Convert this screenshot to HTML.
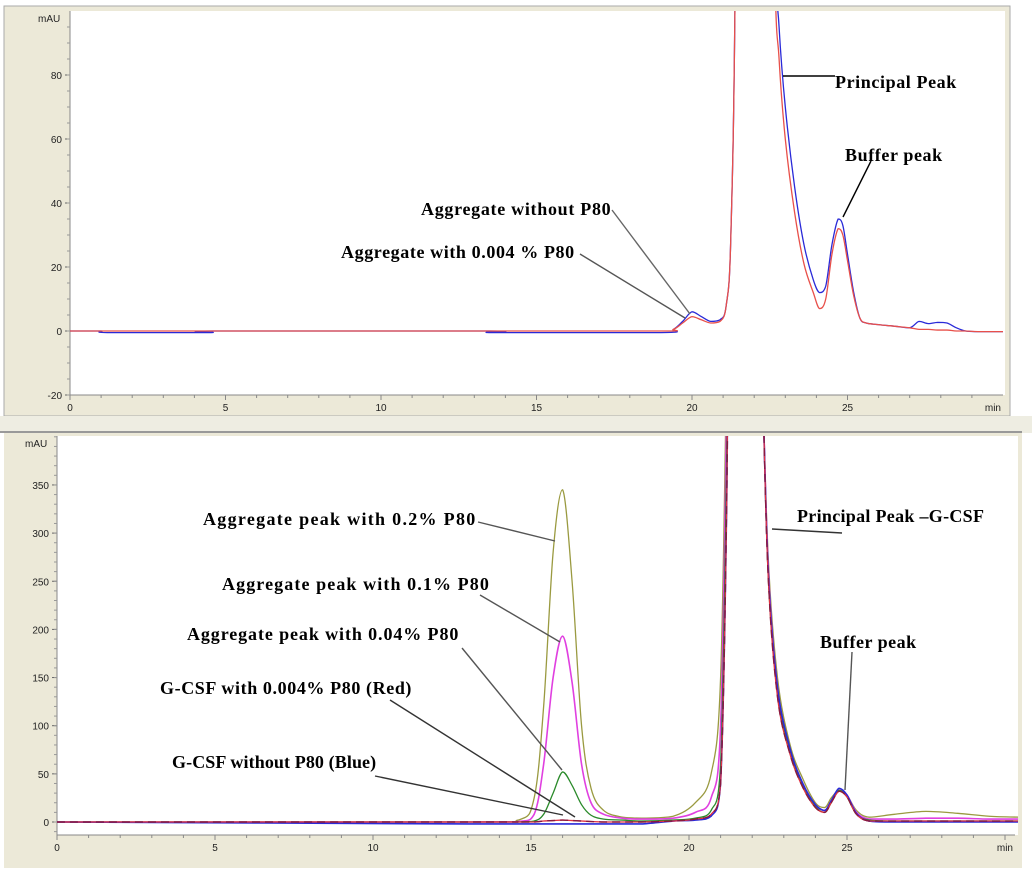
<!DOCTYPE html>
<html><head><meta charset="utf-8"><style>
body{margin:0;background:#fff;}
svg{display:block;font-family:"Liberation Sans",sans-serif;}
.ann{font-family:"Liberation Serif",serif;font-weight:bold;font-size:18px;fill:#000;}
.tick{font-size:10px;fill:#222;}
</style></head><body>
<svg id="c" width="1032" height="872" viewBox="0 0 1032 872">
<rect x="0" y="0" width="1032" height="872" fill="#fff"/>
<rect x="4" y="6" width="1006" height="410" fill="#ECE9D8" stroke="#aaa"/>
<rect x="70" y="11" width="935" height="384" fill="#fff"/>
<rect x="0" y="416" width="1032" height="17" fill="#EEEDE2"/>
<line x1="0" y1="432" x2="1022" y2="432" stroke="#999" stroke-width="2"/>
<rect x="4" y="433" width="1018" height="435" fill="#ECE9D8"/>
<rect x="57" y="436" width="961" height="399" fill="#fff"/>
<defs>
<clipPath id="clipT"><rect x="70" y="11" width="935" height="384"/></clipPath>
<clipPath id="clipB"><rect x="57" y="436" width="961" height="399"/></clipPath>
</defs>
<g id="topAxes"></g><g id="botAxes"></g>
<g id="topSeries" clip-path="url(#clipT)"></g>
<g id="botSeries" clip-path="url(#clipB)"></g>
<g id="ann"></g>
</svg>
<script>
// ---- top chart data ----
const topTimes = [0,1,1.2,4.5,4.6,13.5,13.6,19.0,19.4,19.7,20.0,20.3,20.6,20.9,21.1,21.25,21.4,21.6,22.0,22.4,22.65,22.8,23.0,23.3,23.6,23.9,24.1,24.3,24.5,24.7,24.85,25.0,25.2,25.4,25.6,26.0,26.5,27.0,27.3,27.6,27.9,28.2,28.5,28.8,29.2,30];
const topBlue = [0,0,-0.5,-0.5,0,0,-0.5,-0.5,0.5,3,6,4.5,3,3.5,8,30,120,400,500,300,130,95,70,45,27,16,12,14,27,35,33,24,12,4,2.5,2,1.5,1,3,2.3,2.7,2.5,1,0,-0.2,-0.2];
const topRed =  [0,0,0,0,0,0,0,0,0.5,2.5,4.5,3.5,2.5,3,8,30,120,400,500,300,120,85,60,37,21,12,7,10,24,32,30,22,11,4,2.5,2,1.5,1,0.5,0.5,0.3,0.3,0,0,-0.2,-0.2];
const topYTicks = [-20,0,20,40,60,80];
const topXTicks = [0,5,10,15,20,25];
// ---- bottom chart data ----
const botTimes = [0,13,14.6,15.1,15.4,15.7,16.0,16.3,16.6,16.9,17.3,17.9,18.5,19.5,20.2,20.7,21.0,21.2,21.35,21.6,22.0,22.3,22.5,22.8,23.2,23.6,24.0,24.3,24.5,24.75,25.0,25.3,25.7,26.5,27.5,28.5,29.5,30.5];
const botOlive =   [0,0,2,25,120,280,345,250,100,35,12,5,4,6,20,50,150,500,900,1000,900,500,280,150,80,45,20,15,25,33,28,12,5,8,11,9,6,5];
const botMagenta = [0,0,0.5,8,60,150,193,145,60,20,8,4,3,4,10,25,100,450,900,1000,900,500,270,140,75,40,18,12,22,33,28,10,3,3,4,4,3,3];
const botGreen =   [0,0,0,1,8,30,52,38,18,7,3,2,1,2,4,12,60,400,900,1000,900,500,260,135,72,38,16,10,20,33,26,8,2,1,1,1,1,1];
const botRed =     [0,0,0,0,1,1.5,2,1.5,1,0.5,0,0,0,1,3,8,40,350,900,1000,900,500,260,130,70,36,15,10,20,32,26,8,1,1,1,1,1,1];
const botBlue =    [0,-2,-2,-2,-2,-2,-2,-2,-2,-2,-2,-2,-2,1,2,6,40,350,900,1000,900,500,265,140,76,40,18,12,22,35,28,9,1,0,0,0,0,0];
const botYTicks = [0,50,100,150,200,250,300,350];
const botXTicks = [0,5,10,15,20,25];

const NS="http://www.w3.org/2000/svg";
function mk(tag,attrs,parent){const e=document.createElementNS(NS,tag);for(const k in attrs)e.setAttribute(k,attrs[k]);parent.appendChild(e);return e;}
const tX=t=>70+t*31.1, tY=v=>331-v*3.2;
const bX=t=>57+t*31.6, bY=v=>822-v*0.963;

function smooth(pts){let d=`M${pts[0][0]},${pts[0][1]}`;
 for(let i=0;i<pts.length-1;i++){const p0=pts[Math.max(0,i-1)],p1=pts[i],p2=pts[i+1],p3=pts[Math.min(pts.length-1,i+2)];
  let c1y=p1[1]+(p2[1]-p0[1])/6,c2y=p2[1]-(p3[1]-p1[1])/6;
  const lo=Math.min(p1[1],p2[1]),hi=Math.max(p1[1],p2[1]);
  c1y=Math.max(lo,Math.min(hi,c1y));c2y=Math.max(lo,Math.min(hi,c2y));
  d+=`C${p1[0]+(p2[0]-p0[0])/6},${c1y} ${p2[0]-(p3[0]-p1[0])/6},${c2y} ${p2[0]},${p2[1]}`;}
 return d;}

function axes(g,X,Y,x0,x1,y0,y1,xt,yt,minor,ymin){
 mk('line',{x1:x0,y1:y0,x2:x0,y2:y1,stroke:'#888'},g);
 mk('line',{x1:x0,y1:y1,x2:x1,y2:y1,stroke:'#888'},g);
 yt.forEach(v=>{mk('line',{x1:x0-5,y1:Y(v),x2:x0,y2:Y(v),stroke:'#666'},g);
  const t=mk('text',{x:x0-8,y:Y(v)+4,'text-anchor':'end',class:'tick'},g);t.textContent=v;
  
  });
 for(let v=ymin;Y(v)>y0;v+=minor){mk('line',{x1:x0-3,y1:Y(v),x2:x0,y2:Y(v),stroke:'#999'},g);}
 for(let t=0;X(t)<x1;t+=1){mk('line',{x1:X(t),y1:y1,x2:X(t),y2:y1+(t%5?3:5),stroke:'#888'},g);}
 xt.forEach(t=>{const e=mk('text',{x:X(t),y:y1+16,'text-anchor':'middle',class:'tick'},g);e.textContent=t;
  
  });
 const m=mk('text',{x:x1-2,y:y1+16,'text-anchor':'end',class:'tick'},g);m.textContent='min';
 
 
 const u=mk('text',{x:x0-32,y:y0+11,'text-anchor':'start',class:'tick'},g);u.textContent='mAU';
 
 
}
axes(document.getElementById('topAxes'),tX,tY,70,1003,11,395,topXTicks,topYTicks,5,-20);
axes(document.getElementById('botAxes'),bX,bY,57,1015,436,835,botXTicks,botYTicks,10,-10);

function series(g,times,vals,X,Y,color,name,w){
 const p=mk('path',{d:smooth(times.map((t,i)=>[X(t),Y(vals[i])])),fill:'none',stroke:color,'stroke-width':w||1.3},g);
 
 }
const gT=document.getElementById('topSeries'),gB=document.getElementById('botSeries');
series(gT,topTimes,topBlue,tX,tY,'#2a2ad8','trace-without-p80');
series(gT,topTimes,topRed,tX,tY,'#e8504a','trace-with-0-004-p80');
series(gB,botTimes,botOlive,bX,bY,'#9a9a40','trace-0-2-p80');
series(gB,botTimes,botMagenta,bX,bY,'#e040e0','trace-0-1-p80',1.6);
series(gB,botTimes,botGreen,bX,bY,'#2a8a2a','trace-0-04-p80');
series(gB,botTimes,botBlue,bX,bY,'#2a2ad8','trace-gcsf-blue',1.6);
series(gB,botTimes,botRed,bX,bY,'#e03040','trace-gcsf-red');
series(gB,botTimes,botRed,bX,bY,'#8a1a40','trace-gcsf-dashed',1.4);
gB.lastChild.setAttribute('stroke-dasharray','8 5');

const anns=[
 ['Principal Peak',835,88,783,76,835,76,'#000','principal-peak-label',0.6],
 ['Buffer peak',845,161,843,217,871,161,'#000','buffer-peak-label',0.6],
 ['Aggregate without P80',421,215,612,210,690,314,'#666','aggregate-without-p80-label',0.7],
 ['Aggregate with 0.004 % P80',341,258,580,254,685,318,'#555','aggregate-0-004-label',0.6],
 ['Aggregate peak with 0.2% P80',203,525,478,522,555,541,'#555','aggregate-0-2-label',1.3],
 ['Aggregate peak with 0.1% P80',222,590,480,595,560,642,'#555','aggregate-0-1-label',1.1],
 ['Aggregate peak with 0.04% P80',187,640,462,648,562,770,'#555','aggregate-0-04-label',0.9],
 ['G-CSF with 0.004% P80 (Red)',160,694,390,700,575,817,'#333','gcsf-0-004-label',0.6],
 ['G-CSF without P80 (Blue)',172,768,375,776,563,815,'#333','gcsf-without-p80-label',0.1],
 ['Principal Peak \u2013G-CSF',797,522,772,529,842,533,'#333','principal-peak-gcsf-label',0.3],
 ['Buffer peak',820,648,852,652,845,790,'#555','buffer-peak-bottom-label',0.5]];
const gA=document.getElementById('ann');
anns.forEach(a=>{
 const l=mk('line',{x1:a[3],y1:a[4],x2:a[5],y2:a[6],stroke:a[7],'stroke-width':1.4},gA);
 
 
 const t=mk('text',{x:a[1],y:a[2],class:'ann','letter-spacing':a[9]},gA);t.textContent=a[0];
 
 });
</script>
</body></html>
